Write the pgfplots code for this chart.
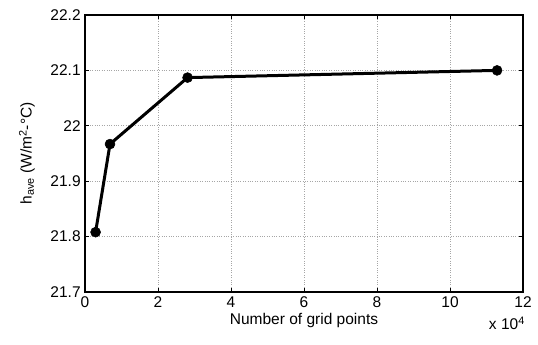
\documentclass[border=0pt]{standalone}
\usepackage{fontspec}
\setmainfont{Liberation Sans}
\usepackage{pgfplots}
\pgfplotsset{compat=1.18}
\usetikzlibrary{calc}

\newcommand{\plotfont}{\fontsize{15.5bp}{18bp}\selectfont}

\begin{document}
\plotfont
\begin{tikzpicture}
\begin{axis}[
  name=ax,
  scale only axis,
  width=438bp, height=277bp,
  xmin=0, xmax=12, ymin=21.7, ymax=22.2,
  xtick={0,2,...,12},
  ytick={21.7,21.8,...,22.2},
  yticklabels={21.7,21.8,21.9,22,22.1,22.2},
  /pgf/number format/assume math mode=true,
  scaled ticks=false,
  tick align=inside,
  major tick length=4bp,
  tick style={black, line width=0.6pt},
  axis line style={black, line width=1.5pt},
  grid=major,
  major grid style={gray!70, dotted, line width=0.6pt},
  ticklabel style={font=\plotfont},
  yticklabel style={xshift=1bp},
  xticklabel style={yshift=1bp},
  xlabel={Number of grid points},
  ylabel={h\textsubscript{ave} (W/m\textsuperscript{2}-°C)},
  label style={font=\plotfont},
  xlabel style={yshift=5bp},
  ylabel style={yshift=5bp},
  clip=false,
]
\addplot[black, line width=3bp, mark=*, mark size=5bp,
  mark options={fill=black, line width=0.5pt}]
  coordinates {
    (0.29, 21.808)
    (0.685, 21.967)
    (2.81, 22.087)
    (11.29, 22.100)
  };
\node[anchor=north east, font=\plotfont, inner sep=0pt]
  at ([xshift=2bp,yshift=-25bp]rel axis cs:1,0) {x 10\textsuperscript{4}};
\end{axis}
\pgfresetboundingbox
\path ($(ax.south west)+(-85bp,-53bp)$) rectangle ($(ax.north east)+(15bp,15bp)$);
\end{tikzpicture}
\end{document}
